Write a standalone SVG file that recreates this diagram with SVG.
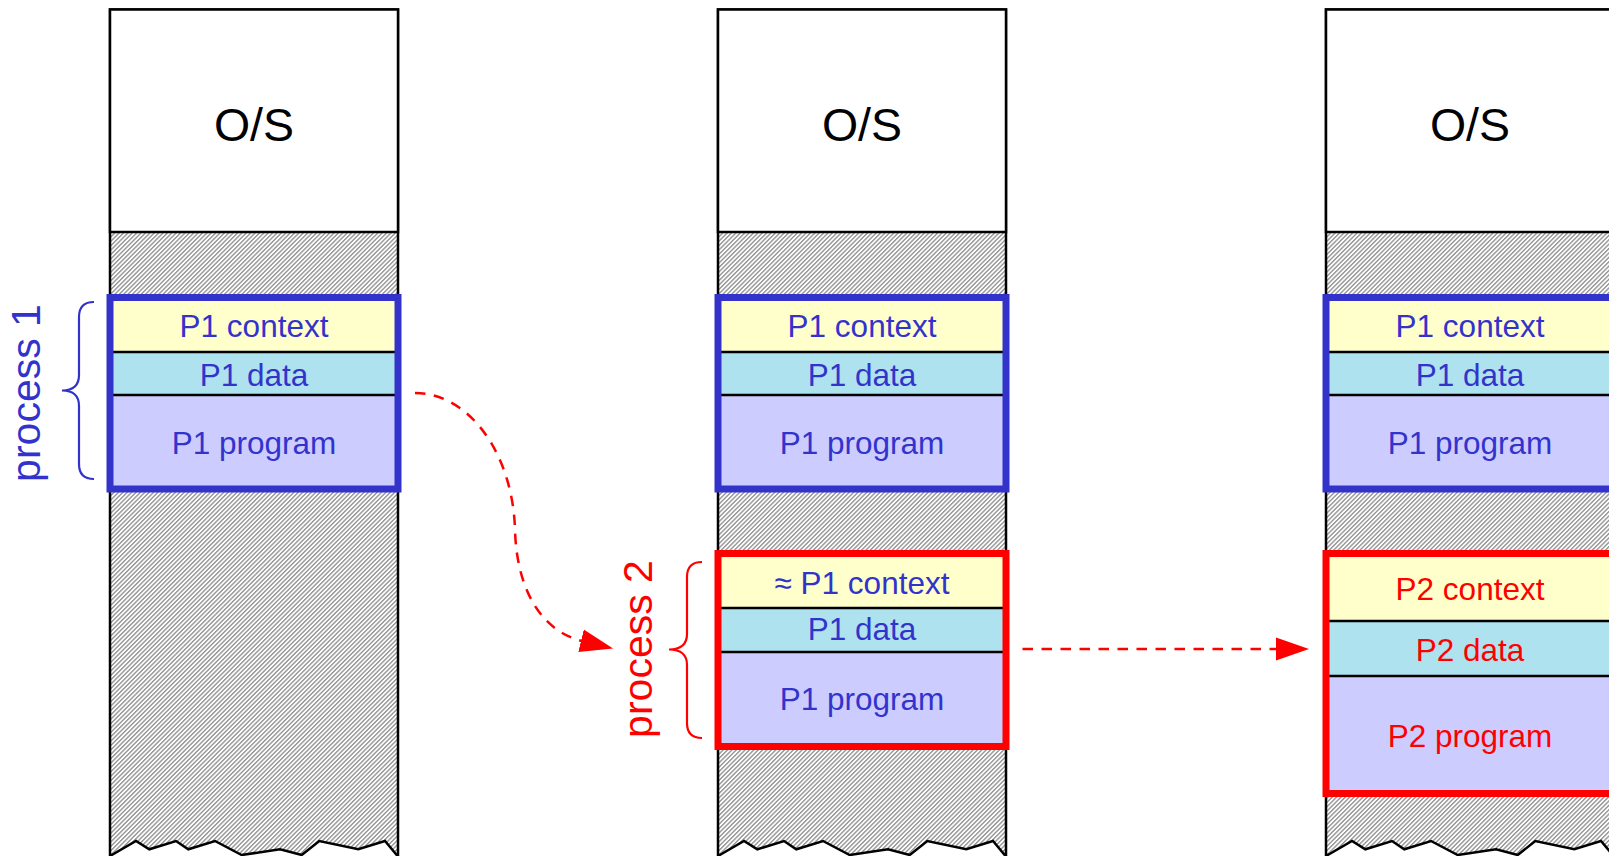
<svg xmlns="http://www.w3.org/2000/svg" xmlns:xlink="http://www.w3.org/1999/xlink" width="1609" height="856" viewBox="0 0 1609 856">
<style>
.col{fill:url(#hatch);stroke:#000;stroke-width:2.5;stroke-linejoin:miter}
.os{fill:#fff;stroke:#000;stroke-width:2.5}
.ctx{fill:#ffffcc}
.dat{fill:#ade2ee}
.prg{fill:#ccccff}
.dv{stroke:#000;stroke-width:2.5}
.fb{fill:none;stroke:#3333cc;stroke-width:7}
.fr{fill:none;stroke:#ff0000;stroke-width:7}
.t{font-family:"Liberation Sans",Arial,sans-serif;text-anchor:middle}
.big{font-size:46.5px;fill:#000}
.lab{font-size:31.5px}
.side{font-size:41px}
.tb{fill:#3333cc}
.tr{fill:#ff0000}
.brb{fill:none;stroke:#3333cc;stroke-width:2.2}
.brr{fill:none;stroke:#ff0000;stroke-width:2.2}
.arr{fill:none;stroke:#ff0000;stroke-width:2.5;stroke-dasharray:10.5 8.5}
</style>
<defs>
<pattern id="hatch" width="3.1" height="3.1" patternUnits="userSpaceOnUse" patternTransform="rotate(45)">
<rect width="3.1" height="3.1" fill="#fff"/>
<line x1="0.7" y1="0" x2="0.7" y2="3.1" stroke="#8c8c8c" stroke-width="1.3"/>
</pattern>
<path id="colOutline" d="M0,9.5 H288 V855 L286.7,855 L275,841 L248.3,849.3 L209.3,841 L191.7,855 L170,849.3 L131.7,855 L105,841 L78.3,849.3 L66,841 L39.3,849.3 L26,841 L1.7,855 L0,855 Z"/>
<marker id="ah" markerUnits="userSpaceOnUse" markerWidth="34" markerHeight="26" refX="1" refY="12" orient="auto">
<path d="M0,0.5 L33,12 L0,23.5 Z" fill="#ff0000"/>
</marker>
</defs>

<g id="column1">
<use xlink:href="#colOutline" href="#colOutline" x="110" class="col"/>
<rect class="os" x="110" y="9.5" width="288" height="222.5"/>
<text class="t big" x="254" y="140.5">O/S</text>
<g id="c1-p1">
<rect class="ctx" x="110" y="297.5" width="288" height="54.5"/>
<rect class="dat" x="110" y="352" width="288" height="43"/>
<rect class="prg" x="110" y="395" width="288" height="94"/>
<line class="dv" x1="110" y1="352" x2="398" y2="352"/>
<line class="dv" x1="110" y1="395" x2="398" y2="395"/>
<rect class="fb" x="110" y="297.5" width="288" height="191.5"/>
<text class="t lab tb" x="254" y="336.5">P1 context</text>
<text class="t lab tb" x="254" y="386">P1 data</text>
<text class="t lab tb" x="254" y="454">P1 program</text>
</g>
</g>

<g id="label-process1">
<path class="brb" d="M94,302 Q79,302 79,317 V375 Q79,390.5 62,390.5 Q79,390.5 79,406 V464 Q79,479 94,479"/>
<text class="t side tb" transform="translate(39.5,393) rotate(-90)">process 1</text>
</g>

<g id="column2">
<use xlink:href="#colOutline" href="#colOutline" x="718" class="col"/>
<rect class="os" x="718" y="9.5" width="288" height="222.5"/>
<text class="t big" x="862" y="140.5">O/S</text>
<g id="c2-p1">
<rect class="ctx" x="718" y="297.5" width="288" height="54.5"/>
<rect class="dat" x="718" y="352" width="288" height="43"/>
<rect class="prg" x="718" y="395" width="288" height="94"/>
<line class="dv" x1="718" y1="352" x2="1006" y2="352"/>
<line class="dv" x1="718" y1="395" x2="1006" y2="395"/>
<rect class="fb" x="718" y="297.5" width="288" height="191.5"/>
<text class="t lab tb" x="862" y="336.5">P1 context</text>
<text class="t lab tb" x="862" y="386">P1 data</text>
<text class="t lab tb" x="862" y="454">P1 program</text>
</g>
<g id="c2-p2">
<rect class="ctx" x="718" y="553.5" width="288" height="54.5"/>
<rect class="dat" x="718" y="608" width="288" height="44"/>
<rect class="prg" x="718" y="652" width="288" height="94.5"/>
<line class="dv" x1="718" y1="608" x2="1006" y2="608"/>
<line class="dv" x1="718" y1="652" x2="1006" y2="652"/>
<rect class="fr" x="718" y="553.5" width="288" height="193"/>
<text class="t lab tb" x="862" y="594">≈ P1 context</text>
<text class="t lab tb" x="862" y="640">P1 data</text>
<text class="t lab tb" x="862" y="710">P1 program</text>
</g>
</g>

<g id="label-process2">
<path class="brr" d="M702,562 Q687,562 687,577 V634 Q687,649.5 669,649.5 Q687,649.5 687,665 V723 Q687,738 702,738"/>
<text class="t side tr" transform="translate(652,649) rotate(-90)">process 2</text>
</g>

<g id="column3">
<use xlink:href="#colOutline" href="#colOutline" x="1326" class="col"/>
<rect class="os" x="1326" y="9.5" width="288" height="222.5"/>
<text class="t big" x="1470" y="140.5">O/S</text>
<g id="c3-p1">
<rect class="ctx" x="1326" y="297.5" width="288" height="54.5"/>
<rect class="dat" x="1326" y="352" width="288" height="43"/>
<rect class="prg" x="1326" y="395" width="288" height="94"/>
<line class="dv" x1="1326" y1="352" x2="1614" y2="352"/>
<line class="dv" x1="1326" y1="395" x2="1614" y2="395"/>
<rect class="fb" x="1326" y="297.5" width="288" height="191.5"/>
<text class="t lab tb" x="1470" y="336.5">P1 context</text>
<text class="t lab tb" x="1470" y="386">P1 data</text>
<text class="t lab tb" x="1470" y="454">P1 program</text>
</g>
<g id="c3-p2">
<rect class="ctx" x="1326" y="553.5" width="288" height="67.5"/>
<rect class="dat" x="1326" y="621" width="288" height="55"/>
<rect class="prg" x="1326" y="676" width="288" height="117.5"/>
<line class="dv" x1="1326" y1="621" x2="1614" y2="621"/>
<line class="dv" x1="1326" y1="676" x2="1614" y2="676"/>
<rect class="fr" x="1326" y="553.5" width="288" height="240"/>
<text class="t lab tr" x="1470" y="600">P2 context</text>
<text class="t lab tr" x="1470" y="661">P2 data</text>
<text class="t lab tr" x="1470" y="747">P2 program</text>
</g>
</g>

<g id="connectors">
<path class="arr" d="M415,393 C470,393 513,455 515,530 C517,595 545,632 582,641" marker-end="url(#ah)"/>
<path class="arr" d="M1022.5,649 H1277" marker-end="url(#ah)"/>
</g>
</svg>
